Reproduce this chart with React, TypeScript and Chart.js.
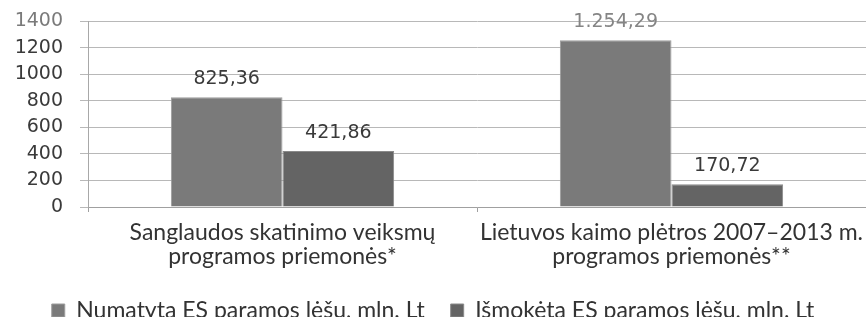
import React, { useEffect, useRef } from "react";
import { Chart, registerables } from "chart.js";

Chart.register(...registerables);

const categories: string[][] = [
  ["Sanglaudos skatinimo veiksmų", "programos priemonės*"],
  ["Lietuvos kaimo plėtros 2007–2013 m.", "programos priemonės**"],
];
const seriesNames = ["Numatyta ES paramos lėšų, mln. Lt", "Išmokėta ES paramos lėšų, mln. Lt"];
const planned = [825.36, 1254.29];
const paid = [421.86, 170.72];
const plannedLabels = ["825,36", "1.254,29"];
const paidLabels = ["421,86", "170,72"];
const yTicks = [0, 200, 400, 600, 800, 1000, 1200, 1400];

const seriesColors = ["#7a7a7a", "#646464"];
const seriesBorders = ["#9c9c9c", "#8a8a8a"];
const labelColors = [["#3a3a3a", "#858585"], ["#3a3a3a", "#3a3a3a"]];

const valueLabelPlugin = {
  id: "valueLabels",
  afterDatasetsDraw(chart: any) {
    const ctx = chart.ctx;
    const texts = [plannedLabels, paidLabels];
    ctx.save();
    ctx.font = "19px 'DejaVu Sans'";
    ctx.textAlign = "center";
    ctx.textBaseline = "middle";
    chart.data.datasets.forEach((_ds: any, di: number) => {
      const meta = chart.getDatasetMeta(di);
      meta.data.forEach((bar: any, i: number) => {
        ctx.fillStyle = labelColors[di][i];
        ctx.fillText(texts[di][i], bar.x, bar.y - 18);
      });
    });
    ctx.restore();
  },
};

export default function App() {
  const ref = useRef<HTMLCanvasElement>(null);
  useEffect(() => {
    document.body.style.margin = "0";
    const chart = new Chart(ref.current!, {
      type: "bar",
      data: {
        labels: categories,
        datasets: [
          {
            label: seriesNames[0],
            data: planned,
            backgroundColor: seriesColors[0],
            borderColor: seriesBorders[0],
            borderWidth: 1,
          },
          {
            label: seriesNames[1],
            data: paid,
            backgroundColor: seriesColors[1],
            borderColor: seriesBorders[1],
            borderWidth: 1,
          },
        ],
      },
      options: {
        animation: false,
        responsive: false,
        maintainAspectRatio: false,
        layout: { padding: { top: 21, right: 0, left: 0, bottom: -15 } },
        datasets: {
          bar: { barPercentage: 1, categoryPercentage: 0.574 },
        },
        scales: {
          x: {
            grid: {
              offset: true,
              drawOnChartArea: false,
              drawTicks: true,
              tickLength: 5,
              color: "#a0a0a0",
            },
            border: { display: true, color: "#a0a0a0" },
            ticks: {
              color: "#333",
              padding: 9,
              maxRotation: 0,
              autoSkip: false,
              font: { family: "Lato", size: 23, lineHeight: 24 / 23 },
            },
            afterFit: (s: any) => {
              s.height = 66;
              s.paddingLeft = 0;
              s.paddingRight = 0;
            },
          },
          y: {
            min: 0,
            max: 1400,
            afterBuildTicks: (s: any) => {
              s.ticks = yTicks.map((v) => ({ value: v }));
            },
            grid: { color: "#b8b8b8", tickLength: 8, drawTicks: true },
            border: { display: true, color: "#a8a8a8" },
            ticks: {
              padding: 17,
              autoSkip: false,
              callback: (v: any) => String(v),
              color: (c: any) => (c.tick && c.tick.value === 1400 ? "#7a7a7a" : "#3a3a3a"),
              font: { family: "DejaVu Sans", size: 19 },
            },
            afterFit: (s: any) => {
              s.width = 88;
              s.paddingTop = 0;
              s.paddingBottom = 0;
            },
          },
        },
        plugins: {
          legend: {
            position: "bottom",
            labels: {
              color: "#333",
              boxWidth: 13,
              boxHeight: 13,
              padding: 26,
              font: { family: "Lato", size: 23, lineHeight: 1 },
            },
          },
          tooltip: { enabled: false },
        },
      },
      plugins: [valueLabelPlugin],
    });
    return () => chart.destroy();
  }, []);
  return <canvas ref={ref} width={866} height={317} style={{ display: "block" }} />;
}
